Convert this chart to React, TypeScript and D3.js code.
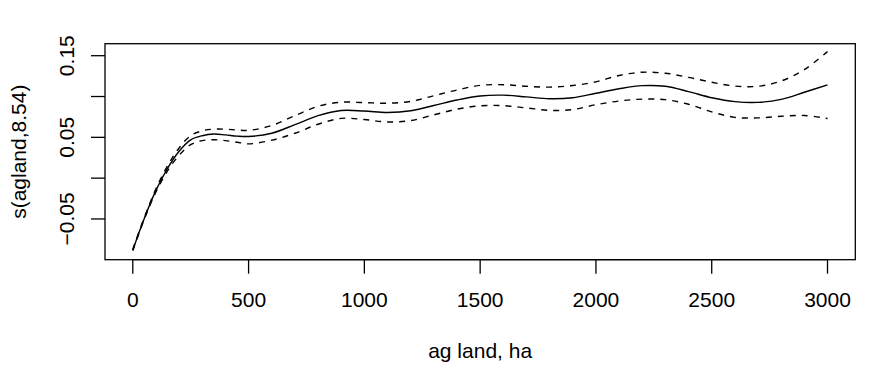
import * as d3 from "d3";

// smooth term from a gam fit
const agland = [
  0, 50, 100, 150, 200, 250, 300, 350, 400, 450, 500, 600, 700, 800, 900,
  1000, 1100, 1200, 1300, 1400, 1500, 1600, 1700, 1800, 1900, 2000, 2100,
  2200, 2300, 2400, 2500, 2600, 2700, 2800, 2900, 3000,
];
const fit = [
  -0.088, -0.049, -0.015, 0.012, 0.033, 0.047, 0.052, 0.054, 0.053, 0.0515,
  0.051, 0.055, 0.0655, 0.0765, 0.0828, 0.0822, 0.0805, 0.0825, 0.089, 0.0958,
  0.1007, 0.1017, 0.0995, 0.0973, 0.0985, 0.104, 0.1095, 0.1133, 0.1125,
  0.106, 0.0985, 0.0937, 0.0928, 0.0965, 0.1052, 0.1143,
];
const upper = [
  -0.087, -0.048, -0.013, 0.015, 0.037, 0.052, 0.058, 0.06, 0.06, 0.059,
  0.0585, 0.0645, 0.0765, 0.088, 0.093, 0.0925, 0.0918, 0.094, 0.101, 0.108,
  0.1137, 0.1145, 0.1125, 0.1115, 0.1135, 0.118, 0.1258, 0.1298, 0.1285,
  0.1235, 0.1175, 0.1128, 0.1125, 0.119, 0.133, 0.155,
];
const lower = [
  -0.089, -0.05, -0.017, 0.009, 0.028, 0.041, 0.046, 0.047, 0.046, 0.044,
  0.042, 0.0465, 0.055, 0.066, 0.0732, 0.0718, 0.0688, 0.0705, 0.0775, 0.0845,
  0.0886, 0.0888, 0.086, 0.083, 0.084, 0.09, 0.0945, 0.0968, 0.0962, 0.0905,
  0.0812, 0.0745, 0.0738, 0.0758, 0.0768, 0.073,
];

const xTicks = [0, 500, 1000, 1500, 2000, 2500, 3000];
const yTicks = [-0.05, 0, 0.05, 0.1, 0.15];
// R drops the labels that would overlap
const yLabels = ["\u22120.05", "", "0.05", "", "0.15"];

const width = 874;
const height = 373;
const font = "Liberation Sans, Arial, sans-serif";

export default function App() {
  const x = d3.scaleLinear([-120, 3120], [105, 855.3]);
  const y = d3.scaleLinear([-0.0999, 0.1647], [259.7, 43.7]);

  const line = d3
    .line<number>((d, i) => x(agland[i]), (d) => y(d))
    .curve(d3.curveCatmullRom);

  const [x0, x1] = x.range();
  const [y0, y1] = y.range();

  return (
    <svg
      width={width}
      height={height}
      style={{ position: "absolute", left: 0, top: 0, background: "white" }}
      fontFamily={font}
      fontSize={21}
    >
      {/* plot box */}
      <rect
        x={x0}
        y={y1}
        width={x1 - x0}
        height={y0 - y1}
        fill="none"
        stroke="black"
        strokeWidth={1.3}
      />

      {/* x axis */}
      <g>
        <line x1={x(0)} x2={x(3000)} y1={y0} y2={y0} stroke="black" strokeWidth={1.3} />
        {xTicks.map((t) => (
          <g key={t} transform={`translate(${x(t)},0)`}>
            <line y1={y0} y2={y0 + 14} stroke="black" strokeWidth={1.3} />
            <text y={306.7} textAnchor="middle">
              {t}
            </text>
          </g>
        ))}
        <text x={(x0 + x1) / 2} y={357.5} textAnchor="middle">
          ag land, ha
        </text>
      </g>

      {/* y axis */}
      <g>
        {yTicks.map((t, i) => (
          <g key={t} transform={`translate(0,${y(t)})`}>
            <line x1={x0 - 14} x2={x0} stroke="black" strokeWidth={1.3} />
            <text transform="translate(74,0) rotate(-90)" textAnchor="middle">
              {yLabels[i]}
            </text>
          </g>
        ))}
        <text
          transform={`translate(26,${(y0 + y1) / 2}) rotate(-90)`}
          textAnchor="middle"
        >
          s(agland,8.54)
        </text>
      </g>

      {/* fitted smooth and +-2 se bands */}
      <path d={line(fit) ?? ""} fill="none" stroke="black" strokeWidth={1.4} />
      <path
        d={line(upper) ?? ""}
        fill="none"
        stroke="black"
        strokeWidth={1.4}
        strokeDasharray="6,6"
      />
      <path
        d={line(lower) ?? ""}
        fill="none"
        stroke="black"
        strokeWidth={1.4}
        strokeDasharray="6,6"
      />
    </svg>
  );
}
